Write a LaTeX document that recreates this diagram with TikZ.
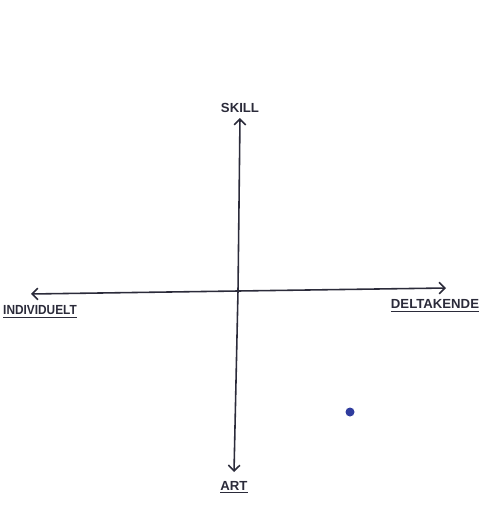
\documentclass[tikz,border=0pt]{standalone}
\usepackage{fontspec}
\setmainfont{Liberation Sans}
\usetikzlibrary{arrows.meta,positioning}
\definecolor{pen}{HTML}{2B2B3A}
\definecolor{ink}{HTML}{2F3C9E}
\begin{document}
\begin{tikzpicture}[x=0.02cm,y=-0.02cm,>=Straight Barb,
  axis/.style={draw=pen,line width=0.9pt,->},
  lbl/.style={text=pen,font=\fontsize{7.5}{8}\selectfont\bfseries,inner sep=1pt}]
\useasboundingbox (0,0) rectangle (484,524);
% axis ends
\coordinate (top) at (240,118);
\coordinate (bottom) at (234,472);
\coordinate (left) at (31,294);
\coordinate (right) at (446,288);
\coordinate (mid) at (238,291);
\draw[axis](mid)--(top);
\draw[axis](mid)--(bottom);
\draw[axis](mid)--(left);
\draw[axis](mid)--(right);
% labels
\node[lbl,above=2pt of top](skill){SKILL};
\node[lbl,xscale=0.9,transform shape](indiv)at(40,312){\underline{INDIVIDUELT}};
\node[lbl](delt)at(435,306){\underline{DELTAKENDE}};
\node[lbl,below=4pt of bottom](art){\underline{ART}};
% dot
\fill[ink](350,412)circle(4.5);
\end{tikzpicture}
\end{document}
